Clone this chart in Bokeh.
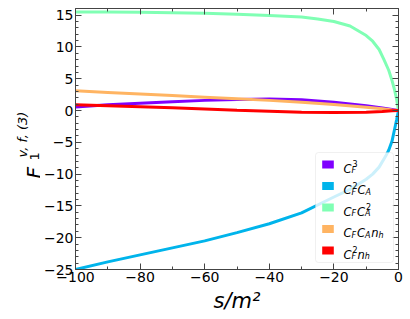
from math import pi
from bokeh.plotting import figure
from bokeh.layouts import row
from bokeh.models import Range1d, FixedTicker, LinearAxis, Label, BoxAnnotation, CustomJSTickFormatter
from bokeh.embed import file_html
from bokeh.resources import INLINE

# ---------------- data ----------------
s_cf3 = [-100, -90, -80, -70, -60, -50, -40, -30, -20, -15, -10, -5, -2, 0]
cf3 = [0.55, 0.9, 1.15, 1.4, 1.6, 1.75, 1.8, 1.7, 1.3, 1.05, 0.75, 0.4, 0.17, 0.0]

s_cf2ca = [-100, -90, -80, -70, -60, -50, -40, -30, -20, -15, -10, -8, -6, -4, -3, -2, -1.2, -0.6, -0.2, 0]
cf2ca = [-25.0, -23.8, -22.7, -21.6, -20.5, -19.2, -17.8, -16.1, -13.6, -12.4, -10.8, -10.0, -8.9, -7.2,
         -6.2, -4.8, -2.9, -1.5, -0.5, 0.0]

s_cfca2 = [-100, -90, -80, -70, -60, -50, -40, -30, -25, -20, -15, -10, -8, -6, -4.5, -3, -2, -1.2, -0.6, -0.2, 0]
cfca2 = [15.5, 15.48, 15.45, 15.4, 15.3, 15.15, 14.95, 14.7, 14.4, 14.0, 13.3, 11.8, 10.9, 9.6, 8.0,
         6.3, 4.7, 3.2, 1.8, 0.6, 0.0]

s_cfcanh = [-100, -90, -80, -70, -60, -50, -40, -30, -20, -10, -5, -2, 0]
cfcanh = [3.1, 2.85, 2.6, 2.35, 2.1, 1.85, 1.6, 1.3, 0.95, 0.5, 0.27, 0.1, 0.0]

s_cf2nh = [-100, -90, -80, -70, -60, -50, -40, -30, -20, -10, -5, -2, 0]
cf2nh = [0.9, 0.75, 0.6, 0.45, 0.25, 0.05, -0.1, -0.25, -0.3, -0.25, -0.15, -0.05, 0.0]

colors = ["#8000ff", "#00b4eb", "#80ffb4", "#ffb462", "#ff0000"]
series = [(s_cf3, cf3), (s_cf2ca, cf2ca), (s_cfca2, cfca2), (s_cfcanh, cfcanh), (s_cf2nh, cf2nh)]

# legend labels: list of (base, subscript, superscript)
legend_labels = [
    [("C", "F", "3")],
    [("C", "F", "2"), ("C", "A", "")],
    [("C", "F", ""), ("C", "A", "2")],
    [("C", "F", ""), ("C", "A", ""), ("n", "h", "")],
    [("C", "F", "2"), ("n", "h", "")],
]

x_major = [-100, -80, -60, -40, -20, 0]
x_minor = [-90, -70, -50, -30, -10]
y_major = [-25, -20, -15, -10, -5, 0, 5, 10, 15]
y_minor = list(range(-25, 17))

FONT = "DejaVu Sans"
W, H = 410, 319
LW = 40  # width of the side panel holding the y-axis label
FL, FR, FT, FB = 72, 398, 8, 269  # frame edges in page pixels

p = figure(width=W - LW, height=H, output_backend="svg", toolbar_location=None,
           x_range=Range1d(-100, 0), y_range=Range1d(-25, 16.05),
           min_border_left=FL - LW, min_border_right=W - FR, min_border_top=FT, min_border_bottom=H - FB,
           x_axis_location=None, y_axis_location=None)
p.grid.visible = False
p.outline_line_color = None
p.background_fill_color = "white"

for (sx, sy), c in zip(series, colors):
    p.line(sx, sy, line_color=c, line_width=3)


def make_axis(ticks, minor, show):
    ax = LinearAxis(ticker=FixedTicker(ticks=ticks, minor_ticks=minor))
    ax.major_tick_in = 6
    ax.major_tick_out = 0
    ax.minor_tick_in = 3
    ax.minor_tick_out = 0
    ax.axis_line_color = "#444444"
    ax.major_tick_line_color = "#444444"
    ax.minor_tick_line_color = "#444444"
    ax.major_label_text_font = FONT
    ax.major_label_text_font_size = "14px"
    ax.major_label_text_color = "black"
    ax.major_label_standoff = 2
    if not show:
        ax.formatter = CustomJSTickFormatter(code="return ''")
        ax.major_label_standoff = 0
    return ax


xb = make_axis(x_major, x_minor, True)
xb.axis_label = "s/m²"
xb.axis_label_text_font = FONT
xb.axis_label_text_font_size = "21px"
xb.axis_label_text_font_style = "italic"
xb.axis_label_text_color = "black"
xb.axis_label_standoff = 4
p.add_layout(xb, "below")
p.add_layout(make_axis(x_major, x_minor, False), "above")
p.add_layout(make_axis(y_major, y_minor, True), "left")
p.add_layout(make_axis(y_major, y_minor, False), "right")


def lab(fig, x, y, text, size, italic=False, angle=0.0):
    fig.add_layout(Label(x=x, y=y, x_units="canvas", y_units="canvas", text=text, angle=angle,
                         text_font=FONT, text_font_size=f"{size}px",
                         text_font_style="italic" if italic else "normal",
                         text_align="left", text_baseline="alphabetic", text_color="black",
                         level="overlay"))


# legend
p.add_layout(BoxAnnotation(left=315 - LW, right=393 - LW, top=152, bottom=262,
                           left_units="canvas", right_units="canvas", top_units="canvas", bottom_units="canvas",
                           fill_color="white", fill_alpha=0.8, line_color="#cccccc", line_width=1,
                           border_radius=3, level="overlay"))
WIDTH = {"C": 0.698, "F": 0.575, "A": 0.684, "n": 0.634, "h": 0.634, "2": 0.636, "3": 0.636, "": 0.0}
MAIN, SCR = 11.5, 8.0
centers = [164, 185.5, 207, 228.5, 250]
for entry, c, yc in zip(legend_labels, colors, centers):
    p.add_layout(BoxAnnotation(left=321.7 - LW, right=333.3 - LW, top=yc - 3.9, bottom=yc + 3.9,
                               left_units="canvas", right_units="canvas", top_units="canvas",
                               bottom_units="canvas", fill_color=c, fill_alpha=1, line_color=None,
                               level="overlay"))
    cx = 343.0
    for base, sub, sup in entry:
        lab(p, cx - LW, yc + 4.3, base, MAIN, italic=True)
        cx += WIDTH[base] * MAIN
        if sup:
            lab(p, cx + 1.0 - LW, yc - 1.0, sup, SCR)
        if sub:
            lab(p, cx - LW, yc + 6.0, sub, SCR, italic=True)
        cx += max(WIDTH[sub], WIDTH[sup]) * SCR + 0.8

# side panel with the y-axis label  F_1^{v, f, (3)}
side = figure(width=LW, height=H, output_backend="svg", toolbar_location=None, title=None,
              x_range=Range1d(0, LW), y_range=Range1d(0, H),
              min_border=0, x_axis_location=None, y_axis_location=None)
side.grid.visible = False
side.outline_line_color = None

lab(side, 33, 178, "F", 20, italic=True, angle=pi / 2)
lab(side, 34, 160, "1", 13, angle=pi / 2)
lab(side, 22, 157, "v, f, (3)", 13, italic=True, angle=pi / 2)

layout = row(side, p, spacing=0)
open("out.html", "w").write(file_html(layout, INLINE))
